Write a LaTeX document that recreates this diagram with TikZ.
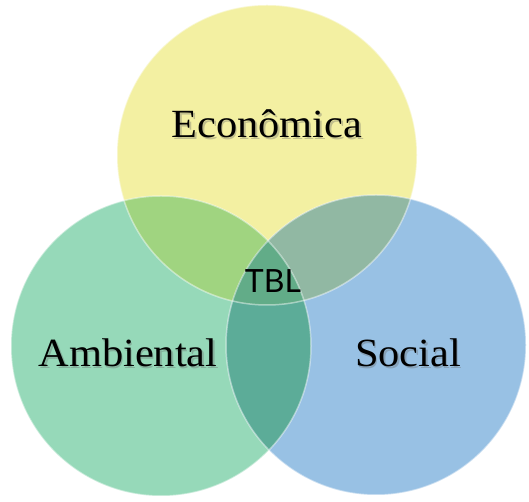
\documentclass[tikz,border=0pt]{standalone}
\usepackage{fontspec}
\setmainfont{Liberation Serif}
\newfontfamily\tblfont{Lato}
\definecolor{cY}{RGB}{243,240,162}
\definecolor{cG}{RGB}{150,217,185}
\definecolor{cB}{RGB}{152,193,228}
\definecolor{cYG}{RGB}{160,212,128}
\definecolor{cYB}{RGB}{145,184,163}
\definecolor{cGB}{RGB}{92,172,152}
\definecolor{cYGB}{RGB}{98,172,136}
\tikzset{
  lbl/.style={font=\fontsize{40}{44}\selectfont, text=black, inner sep=0pt, anchor=base, xscale=1.06},
  shd/.style={lbl, text=black!60, opacity=0.35},
  tbl/.style={font=\tblfont\fontsize{32}{36}\selectfont, text=black, inner sep=0pt, anchor=base},
  rim/.style={draw=white, draw opacity=0.45, line width=1.5pt}
}
\begin{document}
\begin{tikzpicture}
\fill[white] (0,0) rectangle (529pt,502pt);
\useasboundingbox (0,0) rectangle (529pt,502pt);
\coordinate (Y) at (267pt,347pt);
\coordinate (G) at (161pt,156pt);
\coordinate (B) at (376pt,157pt);
% single circles
\fill[cY] (Y) circle (150pt);
\fill[cG] (G) circle (150pt);
\fill[cB] (B) circle (150pt);
% pairwise overlaps
\begin{scope}
  \clip (Y) circle (150pt);
  \fill[cYG] (G) circle (150pt);
  \fill[cYB] (B) circle (150pt);
\end{scope}
\begin{scope}
  \clip (G) circle (150pt);
  \fill[cGB] (B) circle (150pt);
  \begin{scope}
    \clip (Y) circle (150pt);
    \fill[cYGB] (B) circle (150pt);
  \end{scope}
\end{scope}
% soft rims
\draw[rim] (Y) circle (150pt);
\draw[rim] (G) circle (150pt);
\draw[rim] (B) circle (150pt);
% labels with shadows
\node[shd] at (268.5pt,362.5pt) {Econômica};
\node[lbl] (econ) at (267pt,364pt) {Econômica};
\node[shd] at (129.5pt,133.5pt) {Ambiental};
\node[lbl] (amb) at (128pt,135pt) {Ambiental};
\node[shd] at (409.5pt,133.5pt) {Social};
\node[lbl] (soc) at (408pt,135pt) {Social};
\node[tbl] (tbl) at (273pt,209pt) {TBL};
\end{tikzpicture}
\end{document}
